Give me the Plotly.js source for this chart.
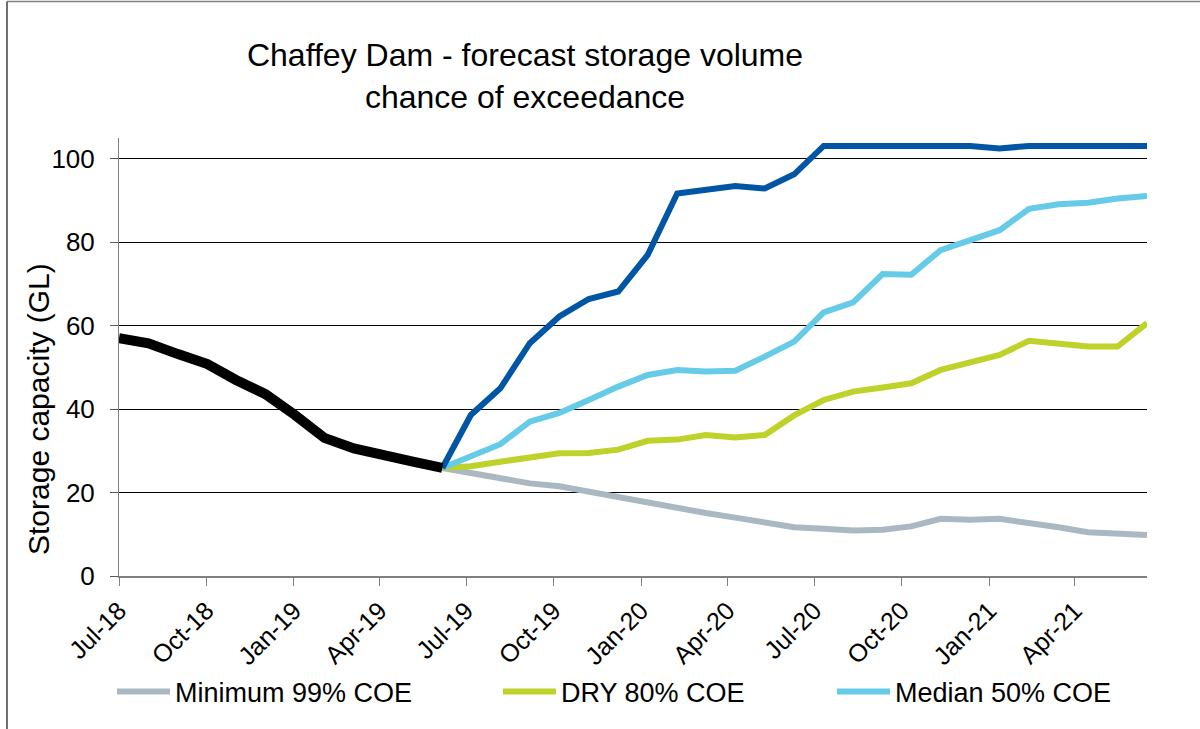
<!DOCTYPE html>
<html>
<head>
<meta charset="utf-8">
<script src="https://cdn.plot.ly/plotly-3.0.1.min.js"></script>
<style>html,body{margin:0;padding:0;background:#fff;}#chart{width:1200px;height:729px;}</style>
</head>
<body>
<div id="chart"></div>
<script>
// Sample dates (x positions)
const months = ['2018-07-01','2018-08-01','2018-09-01','2018-10-02','2018-11-01','2018-12-02',
  '2019-01-02','2019-02-02','2019-03-05','2019-04-05','2019-05-06','2019-06-06',
  '2019-07-06','2019-08-06','2019-09-06','2019-10-07','2019-11-07','2019-12-08',
  '2020-01-08','2020-02-08','2020-03-09','2020-04-09','2020-05-10','2020-06-10',
  '2020-07-11','2020-08-11','2020-09-11','2020-10-11','2020-11-11','2020-12-12',
  '2021-01-12','2021-02-12','2021-03-15','2021-04-15','2021-05-16','2021-06-16'];

// Recorded storage (first 12 samples)
const recorded = [57.0, 55.8, 53.2, 50.8, 47.0, 43.6, 38.6, 33.1, 30.6, 28.8, 27.4, 25.9];

// Forecast series (last 25 samples, starting at the last recorded value)
const minimum99 = [25.9, 24.6, 23.4, 22.2, 21.5, 20.2, 18.9, 17.5, 16.1, 15.1, 14.0, 12.8, 11.7,
  11.3, 10.9, 11.1, 11.9, 13.7, 13.5, 13.7, 12.8, 11.7, 10.5, 10.0, 9.8];
const dry80 = [25.9, 26.3, 27.4, 28.4, 29.4, 29.5, 30.3, 32.4, 32.7, 33.8, 33.2, 33.8, 38.5,
  42.2, 44.2, 45.2, 46.2, 49.4, 51.2, 53.0, 56.4, 55.6, 55.0, 55.0, 60.6];
const median50 = [25.9, 28.6, 31.6, 37.0, 39.1, 42.2, 45.4, 48.2, 49.4, 49.0, 49.2, 52.6, 56.2,
  63.2, 65.6, 72.4, 72.2, 78.1, 80.5, 82.9, 88.0, 89.1, 89.5, 90.5, 91.1];
const wet20 = [25.9, 38.6, 45.0, 55.8, 62.2, 66.4, 68.2, 77.0, 91.7, 92.7, 93.5, 92.9, 96.3,
  103.1, 103.1, 103.1, 103.1, 103.1, 103.1, 102.5, 103.1, 103.1, 103.1, 103.1, 103.1];

const tickDates = ['2018-07-01','2018-10-01','2019-01-01','2019-04-01','2019-07-01','2019-10-01',
  '2020-01-01','2020-04-01','2020-07-01','2020-10-01','2021-01-01','2021-04-01'];
const tickLabels = ['Jul-18','Oct-18','Jan-19','Apr-19','Jul-19','Oct-19',
  'Jan-20','Apr-20','Jul-20','Oct-20','Jan-21','Apr-21'];

const histX = months.slice(0, recorded.length);
const fcX = months.slice(recorded.length - 1);

const FONT = 'Liberation Sans, Arial, sans-serif';

const traces = [
  {x: fcX, y: minimum99, name: 'Minimum 99% COE', mode: 'lines', legend: 'legend',
   line: {color: '#AAB9C1', width: 6}},
  {x: fcX, y: dry80, name: 'DRY 80% COE', mode: 'lines', legend: 'legend2',
   line: {color: '#BED22A', width: 6}},
  {x: fcX, y: median50, name: 'Median 50% COE', mode: 'lines', legend: 'legend3',
   line: {color: '#66CBE7', width: 6}},
  {x: fcX, y: wet20, name: 'Wet 20% COE', mode: 'lines', showlegend: false,
   line: {color: '#0056A4', width: 6}},
  {x: histX, y: recorded, name: 'Recorded', mode: 'lines', showlegend: false,
   line: {color: '#000000', width: 10}}
];

const legendBase = {orientation: 'h', yanchor: 'middle', y: -0.265, xanchor: 'left',
  itemwidth: 53,
  font: {family: FONT, size: 27, color: '#000'}, bgcolor: 'rgba(0,0,0,0)', borderwidth: 0};

const layout = {
  width: 1200, height: 729,
  margin: {l: 119, r: 53, t: 138, b: 153},
  paper_bgcolor: '#fff', plot_bgcolor: '#fff',
  font: {family: FONT, color: '#000'},
  title: {
    text: 'Chaffey Dam - forecast storage volume<br>chance of exceedance',
    font: {family: FONT, size: 32, color: '#000'},
    xref: 'container', x: 0.4375, xanchor: 'center',
    yref: 'container', y: 1 - 66 / 729, yanchor: 'middle'
  },
  xaxis: {
    type: 'date', range: ['2018-07-01', '2021-06-16'],
    tickmode: 'array', tickvals: tickDates, ticktext: tickLabels,
    tickangle: -45, tickfont: {family: FONT, size: 25, color: '#000'},
    ticks: 'outside', ticklen: 8, tickcolor: '#808080', tickwidth: 1,
    showline: true, linecolor: '#808080', linewidth: 2,
    showgrid: false, zeroline: false
  },
  yaxis: {
    range: [0, 105], tickvals: [0, 20, 40, 60, 80, 100],
    tickfont: {family: FONT, size: 26, color: '#000'},
    ticks: 'outside', ticklen: 8, tickcolor: '#595959', tickwidth: 1,
    ticklabelstandoff: 10,
    showline: true, linecolor: '#808080', linewidth: 1,
    showgrid: true, gridcolor: '#000', gridwidth: 1, zeroline: false
  },
  annotations: [
    {text: 'Storage capacity (GL)', textangle: -90, showarrow: false,
     xref: 'paper', yref: 'paper', x: (38 - 119) / 1028, y: (576 - 409) / 438,
     xanchor: 'center', yanchor: 'middle',
     font: {family: FONT, size: 30, color: '#000'}}
  ],
  legend: Object.assign({}, legendBase, {x: (112 - 119) / 1028}),
  legend2: Object.assign({}, legendBase, {x: (498 - 119) / 1028}),
  legend3: Object.assign({}, legendBase, {x: (832 - 119) / 1028}),
  shapes: [
    {type: 'line', xref: 'paper', yref: 'paper', x0: (7 - 119) / 1028, x1: 1.2,
     y0: (576 - 1.5) / 438, y1: (576 - 1.5) / 438, line: {color: '#808080', width: 1.5}},
    {type: 'line', xref: 'paper', yref: 'paper', x0: (7 - 119) / 1028, x1: (7 - 119) / 1028,
     y0: (576 - 1.5) / 438, y1: -0.5, line: {color: '#707070', width: 2}}
  ],
  showlegend: true
};

Plotly.newPlot('chart', traces, layout, {staticPlot: true, displayModeBar: false});
</script>
</body>
</html>
